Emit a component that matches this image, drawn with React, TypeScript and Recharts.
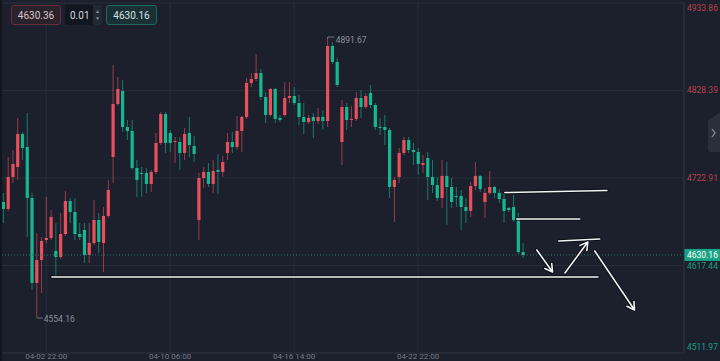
import { ComposedChart, Bar, XAxis, YAxis, CartesianGrid, ReferenceLine } from "recharts";

// 4h candles (red = up, green = down)
const opens = [
  4694.0, 4685.6, 4724.1, 4736.2, 4776.0, 4760.3, 4698.8, 4596.4, 4624.1, 4648.2,
  4650.6, 4635.0, 4627.7, 4655.4, 4695.2, 4682.0, 4655.4, 4660.3, 4630.1, 4644.6,
  4672.3, 4644.6, 4677.2, 4748.3, 4812.1, 4827.8, 4784.4, 4779.6, 4735.0, 4729.0,
  4729.0, 4715.7, 4730.2, 4765.1, 4800.1, 4777.2, 4766.3, 4766.3, 4753.1, 4777.2,
  4761.5, 4672.3, 4722.9, 4730.2, 4715.7, 4732.6, 4730.2, 4753.1, 4766.3, 4760.3,
  4779.6, 4796.5, 4837.5, 4842.3, 4849.5, 4820.6, 4798.9, 4830.2, 4795.3, 4798.9,
  4819.4, 4821.8, 4813.3, 4796.5, 4790.4, 4796.5, 4791.6, 4796.5, 4791.6, 4882.0,
  4862.8, 4766.3, 4808.5, 4792.9, 4794.1, 4819.4, 4808.5, 4825.4, 4810.9, 4784.4,
  4784.4, 4780.8, 4712.1, 4724.1, 4753.1, 4768.7, 4756.7, 4754.3, 4738.6, 4747.0,
  4724.1, 4714.5, 4698.8, 4725.4, 4712.1, 4701.3, 4701.3, 4688.0, 4683.2, 4713.3,
  4725.4, 4694.0, 4704.9, 4712.1, 4704.9, 4697.6, 4686.8, 4688.0, 4672.3, 4633.7,
];
const highs = [
  4704.9, 4748.3, 4756.7, 4795.3, 4778.4, 4801.3, 4704.9, 4656.6, 4651.8, 4700.1,
  4684.4, 4668.7, 4680.8, 4707.3, 4698.8, 4698.8, 4668.7, 4668.7, 4668.7, 4696.4,
  4680.8, 4688.0, 4720.5, 4859.1, 4844.7, 4841.1, 4792.9, 4792.9, 4744.6, 4736.2,
  4735.0, 4732.6, 4777.2, 4802.5, 4802.5, 4780.8, 4772.4, 4772.4, 4783.2, 4796.5,
  4773.6, 4729.0, 4736.2, 4741.0, 4744.6, 4751.9, 4749.5, 4777.2, 4778.4, 4797.7,
  4797.7, 4843.5, 4849.5, 4872.4, 4854.3, 4826.6, 4831.4, 4831.4, 4798.9, 4838.7,
  4838.7, 4832.6, 4823.0, 4813.3, 4798.9, 4801.3, 4807.3, 4804.9, 4891.67, 4886.9,
  4867.6, 4817.0, 4813.3, 4810.0, 4826.6, 4829.0, 4825.4, 4835.0, 4813.3, 4795.3,
  4798.9, 4783.2, 4724.1, 4759.1, 4772.4, 4772.4, 4765.1, 4759.1, 4750.7, 4754.3,
  4744.6, 4724.1, 4744.6, 4742.2, 4722.9, 4712.1, 4708.5, 4698.8, 4718.1, 4742.2,
  4726.6, 4710.9, 4731.4, 4713.3, 4709.7, 4704.9, 4688.0, 4702.5, 4680.8, 4644.6,
];
const lows = [
  4668.7, 4683.0, 4716.9, 4720.5, 4744.6, 4651.8, 4588.0, 4554.16, 4584.3, 4644.6,
  4648.0, 4603.6, 4625.0, 4653.0, 4668.7, 4648.2, 4648.2, 4620.5, 4620.5, 4642.0,
  4632.5, 4609.6, 4674.7, 4716.9, 4809.7, 4778.4, 4768.7, 4732.6, 4700.1, 4700.1,
  4704.9, 4706.1, 4727.8, 4762.7, 4753.1, 4754.3, 4741.0, 4732.6, 4744.6, 4748.3,
  4742.2, 4648.2, 4710.9, 4712.1, 4704.9, 4703.7, 4724.1, 4744.6, 4753.1, 4756.7,
  4754.3, 4794.1, 4832.6, 4839.9, 4817.0, 4789.2, 4796.5, 4789.2, 4790.4, 4796.5,
  4813.3, 4810.9, 4786.8, 4776.0, 4788.0, 4771.2, 4788.0, 4780.8, 4784.4, 4860.3,
  4832.6, 4738.6, 4780.8, 4784.4, 4791.6, 4795.3, 4806.1, 4807.3, 4780.8, 4774.8,
  4762.7, 4698.8, 4669.9, 4716.9, 4750.7, 4753.1, 4738.6, 4726.6, 4729.0, 4696.4,
  4704.9, 4695.2, 4686.8, 4666.3, 4686.8, 4688.0, 4660.3, 4668.7, 4676.0, 4708.5,
  4706.1, 4674.7, 4702.5, 4698.8, 4692.8, 4668.7, 4682.0, 4669.9, 4631.3, 4626.5,
];
const closes = [
  4685.6, 4724.1, 4739.8, 4776.0, 4759.1, 4698.8, 4596.4, 4624.1, 4647.0, 4650.6,
  4676.0, 4627.7, 4655.4, 4695.2, 4682.0, 4655.4, 4651.8, 4630.1, 4644.6, 4672.3,
  4645.8, 4677.2, 4708.5, 4812.1, 4830.2, 4784.4, 4779.6, 4735.0, 4720.5, 4727.8,
  4715.7, 4730.2, 4765.1, 4800.1, 4765.1, 4765.1, 4767.5, 4753.1, 4776.0, 4762.7,
  4751.9, 4722.9, 4730.2, 4715.7, 4731.4, 4730.2, 4742.2, 4766.3, 4760.3, 4779.6,
  4796.5, 4837.5, 4842.3, 4849.5, 4820.6, 4798.9, 4830.2, 4794.1, 4792.9, 4819.4,
  4821.8, 4813.3, 4796.5, 4790.4, 4795.3, 4791.6, 4796.5, 4791.6, 4882.0, 4862.8,
  4835.0, 4808.5, 4792.9, 4794.1, 4819.4, 4808.5, 4821.8, 4810.9, 4784.4, 4783.2,
  4780.8, 4712.1, 4720.5, 4753.1, 4768.7, 4756.7, 4754.3, 4739.8, 4741.0, 4724.1,
  4714.5, 4698.8, 4725.4, 4712.1, 4694.0, 4700.1, 4688.0, 4683.2, 4713.3, 4725.4,
  4709.7, 4704.9, 4712.1, 4704.9, 4697.6, 4683.2, 4684.4, 4672.3, 4633.7, 4630.16,
];

const tickIndex = [9, 35, 61, 87];
const tickLabels = ["04-02 22:00", "04-10 06:00", "04-16 14:00", "04-22 22:00"];
const priceTicks = [4511.97, 4617.44, 4722.91, 4828.39, 4933.86];

const lastPrice = 4630.16;
const askPrice = "4630.36";
const bidPrice = "4630.16";
const lotSize = "0.01";

// hand-drawn lines on the chart, [candle index, price]
const levelLines = [
  [[10.2, 4603.5], [124.7, 4603.5]],
  [[105.2, 4705.4], [126.6, 4707.9]],
  [[107.7, 4673.5], [120.9, 4673.5]],
  [[116.5, 4647.0], [125.1, 4649.4]],
];
// arrows: [tail, tip]
const arrows = [
  [[111.9, 4636.1], [115.2, 4609.6]],
  [[117.8, 4608.4], [122.6, 4645.8]],
  [[124.05, 4634.9], [132.4, 4563.8]],
];

const RED = "#e9505c";
const GREEN = "#15b893";
const BG = "#1b202c";
const GRID = "#262c39";
const FONT = "Roboto, 'Liberation Sans', Arial, sans-serif";

const maxHigh = Math.max(...highs);
const minLow = Math.min(...lows);

const rows = opens.map((o, i) => ({
  i,
  open: o,
  high: highs[i],
  low: lows[i],
  close: closes[i],
}));

function Candle(props: any) {
  const { x, y, width, height, payload } = props;
  if (x == null || !payload) return null;
  const { open, close, high, low } = payload;
  const h = Math.abs(height);
  const top = height < 0 ? y + height : y;
  const ppu = h / (high - low || 1);
  const toY = (v: number) => top + (high - v) * ppu;
  const cx = x + width / 2;
  const color = close >= open ? RED : GREEN;
  const bTop = toY(Math.max(open, close));
  const bH = Math.max(1, toY(Math.min(open, close)) - bTop);
  return (
    <g>
      <line x1={cx} x2={cx} y1={top} y2={top + h} stroke={color} strokeOpacity={0.6} />
      <rect x={cx - 1.6} y={bTop} width={3.2} height={bH} fill={color} />
      {high === maxHigh && (
        <g>
          <path d={`M${cx},${top + 1}V${top - 1}H${cx + 7}`} stroke="#6f7581" fill="none" />
          <text x={cx + 8} y={top + 2} dy="0.35em" fontSize={8.5} fill="#8b909b" fontFamily={FONT}>
            {high.toFixed(2)}
          </text>
        </g>
      )}
      {low === minLow && (
        <g>
          <path d={`M${cx},${top + h}H${cx + 6}`} stroke="#6f7581" fill="none" />
          <text x={cx + 7} y={top + h + 1.5} dy="0.35em" fontSize={8.5} fill="#8b909b" fontFamily={FONT}>
            {low.toFixed(2)}
          </text>
        </g>
      )}
    </g>
  );
}

function strokeShape(head: boolean) {
  return (props: any) => {
    const { x1, y1, x2, y2 } = props;
    let d = `M${x1},${y1}L${x2},${y2}`;
    if (head) {
      const a = Math.atan2(y2 - y1, x2 - x1);
      const L = 8.5;
      const wx1 = x2 - L * Math.cos(a - Math.PI / 6);
      const wy1 = y2 - L * Math.sin(a - Math.PI / 6);
      const wx2 = x2 - L * Math.cos(a + Math.PI / 6);
      const wy2 = y2 - L * Math.sin(a + Math.PI / 6);
      d += `M${wx1},${wy1}L${x2},${y2}L${wx2},${wy2}`;
    }
    return (
      <g>
        <path d={d} stroke="#0a0d12" strokeOpacity={0.8} strokeWidth={3.6} fill="none" strokeLinecap="round" strokeLinejoin="round" />
        <path d={d} stroke="#f2f3f5" strokeWidth={1.6} fill="none" strokeLinecap="round" strokeLinejoin="round" />
      </g>
    );
  };
}

function PriceTick(props: any) {
  const { x, y, payload } = props;
  const v = payload.value;
  let ty = y;
  if (v === priceTicks[priceTicks.length - 1]) ty = y + 5;
  if (v === priceTicks[0]) ty = y - 6;
  if (v === priceTicks[1]) ty = y + 1;
  return (
    <text x={x} y={ty} dy="0.35em" fontSize={8.5} fontFamily={FONT} fill={v > lastPrice ? "#b8404c" : "#1c9d82"}>
      {v.toFixed(2)}
    </text>
  );
}

function TimeTick(props: any) {
  const { x, y, payload } = props;
  const k = tickIndex.indexOf(payload.value);
  return (
    <text x={x} y={y - 1} dy="0.35em" textAnchor="middle" fontSize={8} fontFamily={FONT} fill="#767c89">
      {tickLabels[k]}
    </text>
  );
}

function PriceTag(props: any) {
  const { viewBox } = props;
  if (!viewBox) return null;
  const x = viewBox.x + viewBox.width;
  const y = viewBox.y;
  return (
    <g>
      <rect x={x} y={y - 6} width={36} height={12} fill="#1aa386" />
      <text x={x + 3} y={y} dy="0.35em" fontSize={8.5} fontFamily={FONT} fill="#ffffff">
        {lastPrice.toFixed(2)}
      </text>
    </g>
  );
}

const box = {
  position: "absolute" as const,
  top: 5,
  height: 20,
  display: "flex",
  alignItems: "center",
  justifyContent: "center",
  fontSize: 10,
  fontFamily: FONT,
  borderRadius: 3,
  boxSizing: "border-box" as const,
};

export default function App() {
  return (
    <div style={{ position: "fixed", left: 0, top: 0, width: 720, height: 361, background: BG, overflow: "hidden" }}>
      <ComposedChart width={720} height={361} data={rows} margin={{ top: 3, right: 0, left: 0, bottom: 0 }}>
        <CartesianGrid stroke={GRID} strokeWidth={1} />
        <XAxis
          type="number"
          dataKey="i"
          domain={[-0.692, 142.77]}
          allowDataOverflow
          ticks={tickIndex}
          interval={0}
          height={8}
          tickSize={0}
          tickMargin={4}
          tick={<TimeTick />}
          axisLine={{ stroke: GRID }}
          tickLine={false}
        />
        <YAxis
          orientation="right"
          width={36}
          domain={[priceTicks[0], priceTicks[priceTicks.length - 1]]}
          allowDataOverflow
          ticks={priceTicks}
          interval={0}
          tickSize={0}
          tickMargin={3}
          tick={<PriceTick />}
          axisLine={{ stroke: "#2b313d" }}
          tickLine={false}
        />
        <ReferenceLine
          y={lastPrice}
          stroke="#1f7a69"
          strokeDasharray="1 2"
          label={<PriceTag />}
        />
        <Bar
          dataKey={(d: any) => [d.low, d.high]}
          barSize={3}
          shape={(p: any) => <Candle {...p} />}
          isAnimationActive={false}
        />
        {levelLines.map((s, k) => (
          <ReferenceLine
            key={"l" + k}
            segment={[{ x: s[0][0], y: s[0][1] }, { x: s[1][0], y: s[1][1] }]}
            shape={strokeShape(false)}
            ifOverflow="visible"
          />
        ))}
        {arrows.map((s, k) => (
          <ReferenceLine
            key={"a" + k}
            segment={[{ x: s[0][0], y: s[0][1] }, { x: s[1][0], y: s[1][1] }]}
            shape={strokeShape(true)}
            ifOverflow="visible"
          />
        ))}
      </ComposedChart>

      <div style={{ position: "absolute", left: 0, top: 0, width: 2, height: 361, background: "#10141b" }} />

      <div style={{ ...box, left: 11, width: 50, border: "1px solid #6a2c38", background: "#2a222b", color: "#d8c6ca" }}>
        {askPrice}
      </div>
      <div style={{ ...box, left: 65, width: 28, background: "#12161e", color: "#d3d6dc", justifyContent: "flex-start", paddingLeft: 5, borderRadius: "3px 0 0 3px" }}>
        {lotSize}
      </div>
      <div style={{ ...box, left: 93, width: 9, background: "#232934", borderRadius: "0 3px 3px 0", flexDirection: "column", fontSize: 5, color: "#8d929c", lineHeight: "7px" }}>
        <span>▲</span>
        <span>▼</span>
      </div>
      <div style={{ ...box, left: 106, width: 51, border: "1px solid #1d6a5c", background: "#1b3035", color: "#d2e4e0" }}>
        {bidPrice}
      </div>

      <svg style={{ position: "absolute", left: 700, top: 105 }} width={20} height={55}>
        <path d="M20,7 L8,16 L8,44 Q8,47 11,47 L20,47 Z" fill="#2a303b" />
        <path d="M12,24 L15,28 L12,32" stroke="#8d929c" strokeWidth={1.2} fill="none" />
      </svg>
    </div>
  );
}
